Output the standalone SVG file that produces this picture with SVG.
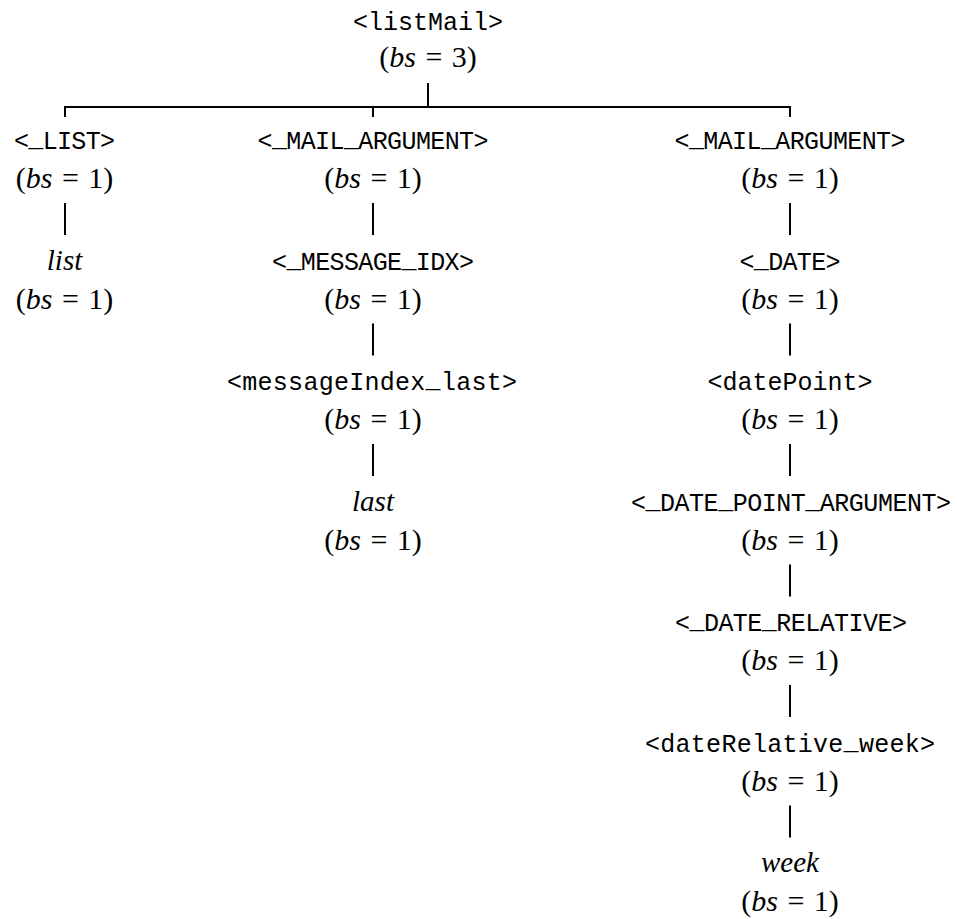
<svg xmlns="http://www.w3.org/2000/svg" width="957" height="919" viewBox="0 0 957 919">
  <style>
    .n { font-family: "Liberation Mono", "DejaVu Sans Mono", monospace; font-size: 25px; fill: #000; text-anchor: middle; }
    .u { font-weight: bold; }
    .m { font-family: "Liberation Serif", "DejaVu Serif", serif; font-size: 30px; fill: #000; text-anchor: middle; }
    .i { font-style: italic; }
    .w { font-family: "Liberation Serif", "DejaVu Serif", serif; font-size: 29px; font-style: italic; fill: #000; text-anchor: middle; }
    .c { fill: none; stroke: #000; stroke-width: 2; }
  </style>
  <rect width="957" height="919" fill="#fff"/>

  <!-- tree edges -->
  <g id="connectors" class="c">
    <path d="M428 83 V107 M64 107 H791 M65 106 V117 M373 106 V117 M790 106 V117"/>
    <path d="M65 203 V235"/>
    <path d="M373 203 V235 M373 323.5 V355.5 M373 444 V476"/>
    <path d="M790 203 V235 M790 323.5 V355.5 M790 444 V476 M790 564.5 V596.5 M790 685 V717 M790 805.5 V837.5"/>
  </g>

  <g id="listMail">
    <text class="n" x="428" y="30" textLength="150">&lt;listMail&gt;</text>
    <text class="m" x="428" y="67">(<tspan class="i">bs</tspan><tspan dx="2"> = </tspan><tspan dx="2">3)</tspan></text>
  </g>

  <g id="LIST">
    <text class="n" x="64.5" y="149" textLength="101">&lt;<tspan class="u" dy="-3">_</tspan><tspan dy="3">LIST</tspan>&gt;</text>
    <text class="m" x="64.5" y="188">(<tspan class="i">bs</tspan><tspan dx="2"> = </tspan><tspan dx="2">1)</tspan></text>
  </g>
  <g id="list">
    <text class="w" x="64.5" y="269.5">list</text>
    <text class="m" x="64.5" y="308.5">(<tspan class="i">bs</tspan><tspan dx="2"> = </tspan><tspan dx="2">1)</tspan></text>
  </g>

  <g id="MAIL_ARGUMENT_1">
    <text class="n" x="373" y="149" textLength="231">&lt;<tspan class="u" dy="-3">_</tspan><tspan dy="3">MAIL</tspan><tspan class="u" dy="-3">_</tspan><tspan dy="3">ARGUMENT</tspan>&gt;</text>
    <text class="m" x="373" y="188">(<tspan class="i">bs</tspan><tspan dx="2"> = </tspan><tspan dx="2">1)</tspan></text>
  </g>
  <g id="MESSAGE_IDX">
    <text class="n" x="373" y="269.5" textLength="202">&lt;<tspan class="u" dy="-3">_</tspan><tspan dy="3">MESSAGE</tspan><tspan class="u" dy="-3">_</tspan><tspan dy="3">IDX</tspan>&gt;</text>
    <text class="m" x="373" y="308.5">(<tspan class="i">bs</tspan><tspan dx="2"> = </tspan><tspan dx="2">1)</tspan></text>
  </g>
  <g id="messageIndex_last">
    <text class="n" x="372" y="390" textLength="290">&lt;messageIndex<tspan class="u" dy="-3">_</tspan><tspan dy="3">last</tspan>&gt;</text>
    <text class="m" x="373" y="429">(<tspan class="i">bs</tspan><tspan dx="2"> = </tspan><tspan dx="2">1)</tspan></text>
  </g>
  <g id="last">
    <text class="w" x="373" y="510.5">last</text>
    <text class="m" x="373" y="549.5">(<tspan class="i">bs</tspan><tspan dx="2"> = </tspan><tspan dx="2">1)</tspan></text>
  </g>

  <g id="MAIL_ARGUMENT_2">
    <text class="n" x="790" y="149" textLength="231">&lt;<tspan class="u" dy="-3">_</tspan><tspan dy="3">MAIL</tspan><tspan class="u" dy="-3">_</tspan><tspan dy="3">ARGUMENT</tspan>&gt;</text>
    <text class="m" x="790" y="188">(<tspan class="i">bs</tspan><tspan dx="2"> = </tspan><tspan dx="2">1)</tspan></text>
  </g>
  <g id="DATE">
    <text class="n" x="790" y="269.5" textLength="101">&lt;<tspan class="u" dy="-3">_</tspan><tspan dy="3">DATE</tspan>&gt;</text>
    <text class="m" x="790" y="308.5">(<tspan class="i">bs</tspan><tspan dx="2"> = </tspan><tspan dx="2">1)</tspan></text>
  </g>
  <g id="datePoint">
    <text class="n" x="790" y="390" textLength="165">&lt;datePoint&gt;</text>
    <text class="m" x="790" y="429">(<tspan class="i">bs</tspan><tspan dx="2"> = </tspan><tspan dx="2">1)</tspan></text>
  </g>
  <g id="DATE_POINT_ARGUMENT">
    <text class="n" x="791" y="510.5" textLength="320">&lt;<tspan class="u" dy="-3">_</tspan><tspan dy="3">DATE</tspan><tspan class="u" dy="-3">_</tspan><tspan dy="3">POINT</tspan><tspan class="u" dy="-3">_</tspan><tspan dy="3">ARGUMENT</tspan>&gt;</text>
    <text class="m" x="790" y="549.5">(<tspan class="i">bs</tspan><tspan dx="2"> = </tspan><tspan dx="2">1)</tspan></text>
  </g>
  <g id="DATE_RELATIVE">
    <text class="n" x="791" y="631" textLength="232">&lt;<tspan class="u" dy="-3">_</tspan><tspan dy="3">DATE</tspan><tspan class="u" dy="-3">_</tspan><tspan dy="3">RELATIVE</tspan>&gt;</text>
    <text class="m" x="790" y="670">(<tspan class="i">bs</tspan><tspan dx="2"> = </tspan><tspan dx="2">1)</tspan></text>
  </g>
  <g id="dateRelative_week">
    <text class="n" x="790" y="751.5" textLength="290">&lt;dateRelative<tspan class="u" dy="-3">_</tspan><tspan dy="3">week</tspan>&gt;</text>
    <text class="m" x="790" y="790.5">(<tspan class="i">bs</tspan><tspan dx="2"> = </tspan><tspan dx="2">1)</tspan></text>
  </g>
  <g id="week">
    <text class="w" x="790" y="872">week</text>
    <text class="m" x="790" y="911">(<tspan class="i">bs</tspan><tspan dx="2"> = </tspan><tspan dx="2">1)</tspan></text>
  </g>
</svg>
